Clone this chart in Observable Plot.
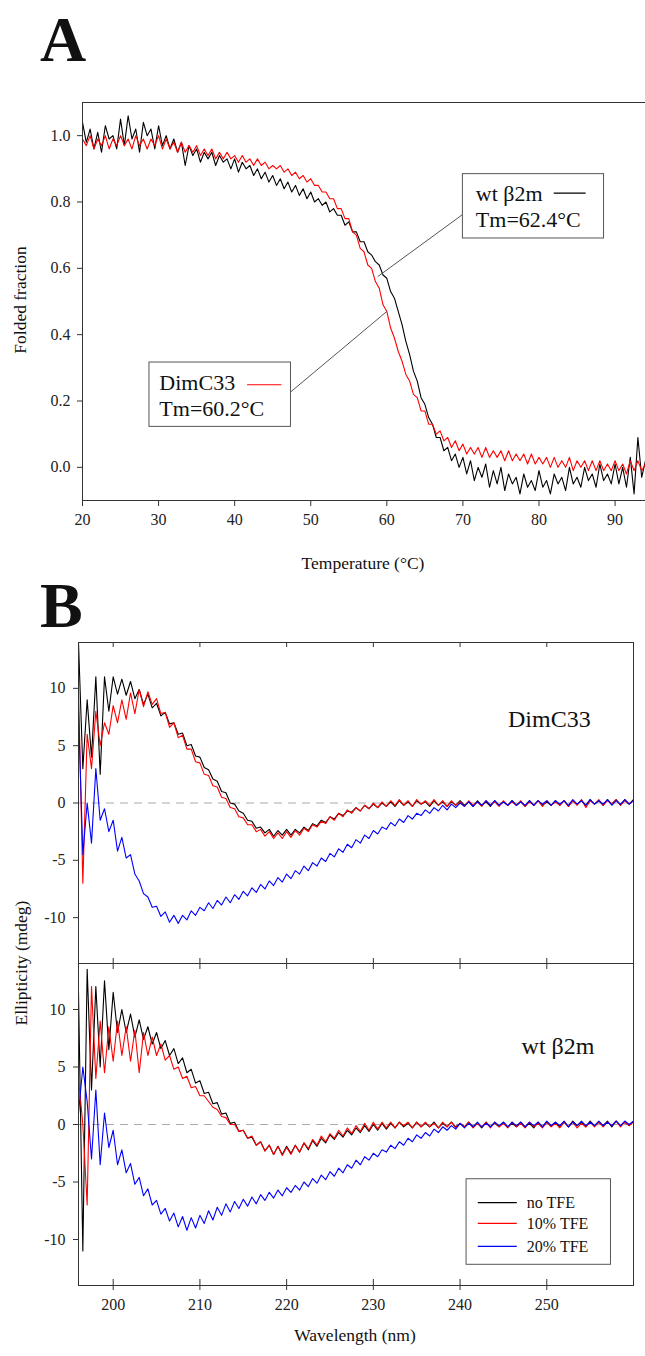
<!DOCTYPE html>
<html><head><meta charset="utf-8">
<script src="https://cdn.jsdelivr.net/npm/d3@7"></script>
<script src="https://cdn.jsdelivr.net/npm/@observablehq/plot@0.6"></script>
<style>
body{margin:0;background:#fff;}
#fig{position:relative;width:645px;height:1356px;overflow:hidden;background:#fff;font-family:"Liberation Serif","DejaVu Serif",serif;color:#222;}
#fig svg{position:absolute;left:0;}
.lab{position:absolute;white-space:nowrap;line-height:1;}
</style></head><body><div id="fig"></div>
<script>
// ---------- Panel A data: folded fraction vs temperature ----------
const tempStart = 20, tempStep = 0.5;
const tempTicks = [20, 30, 40, 50, 60, 70, 80, 90];
const foldTicks = [0, 0.2, 0.4, 0.6, 0.8, 1.0];
const wtFolded = [
 1.04,0.98,1.02,0.96,1.01,0.95,1.03,0.99,1.00,0.96,
 1.05,0.97,1.06,0.99,1.02,0.95,1.04,1.00,1.02,0.96,
 1.03,0.97,1.00,0.96,0.99,0.95,0.98,0.91,0.97,0.94,
 0.96,0.92,0.95,0.93,0.95,0.91,0.94,0.92,0.93,0.90,
 0.93,0.89,0.92,0.90,0.91,0.88,0.90,0.87,0.89,0.86,
 0.88,0.85,0.87,0.84,0.86,0.83,0.85,0.82,0.84,0.81,
 0.83,0.80,0.81,0.79,0.80,0.77,0.78,0.76,0.76,0.73,
 0.74,0.71,0.71,0.68,0.68,0.65,0.64,0.62,0.61,0.58,
 0.57,0.53,0.51,0.47,0.43,0.38,0.34,0.29,0.26,0.21,
 0.19,0.15,0.13,0.09,0.09,0.05,0.06,0.02,0.04,0.00,
 0.03,-0.02,0.02,-0.04,0.00,-0.03,0.01,-0.06,-0.01,-0.05,
 0.00,-0.07,-0.02,-0.05,-0.03,-0.08,-0.02,-0.06,-0.04,-0.07,
 -0.01,-0.06,-0.04,-0.08,-0.02,-0.05,-0.03,-0.07,0.00,-0.05,
 -0.03,-0.06,0.00,-0.04,-0.02,-0.06,0.01,-0.04,-0.02,-0.05,
 0.01,-0.05,0.00,-0.06,0.03,-0.08,0.09,-0.03,0.02
];
const dimFolded = [
 0.99,0.97,1.00,0.96,0.99,0.97,1.00,0.96,0.99,0.97,
 1.00,0.97,0.99,0.96,1.00,0.97,0.99,0.96,0.99,0.97,
 1.00,0.96,0.99,0.96,0.98,0.95,0.98,0.95,0.97,0.95,
 0.97,0.94,0.96,0.94,0.96,0.93,0.95,0.93,0.95,0.93,
 0.94,0.92,0.94,0.92,0.93,0.91,0.93,0.91,0.92,0.90,
 0.91,0.90,0.91,0.89,0.90,0.88,0.89,0.87,0.88,0.86,
 0.87,0.85,0.85,0.83,0.83,0.81,0.81,0.78,0.78,0.75,
 0.75,0.71,0.70,0.66,0.65,0.61,0.60,0.56,0.54,0.49,
 0.47,0.42,0.39,0.35,0.32,0.28,0.26,0.22,0.21,0.17,
 0.17,0.13,0.13,0.10,0.11,0.08,0.09,0.06,0.08,0.05,
 0.07,0.04,0.06,0.04,0.06,0.03,0.06,0.03,0.05,0.03,
 0.05,0.02,0.05,0.02,0.04,0.02,0.04,0.01,0.04,0.01,
 0.03,0.01,0.03,0.00,0.03,0.00,0.02,0.00,0.03,-0.01,
 0.02,0.00,0.02,-0.01,0.02,-0.01,0.02,-0.01,0.01,-0.01,
 0.02,-0.01,0.01,-0.02,0.02,-0.01,0.02,-0.01,0.01
];
const seriesA = [
  {name: "wt β2m", color: "#000000", values: wtFolded},
  {name: "DimC33", color: "#ff0000", values: dimFolded}
];
// annotation callouts (data units)
const annoA = [
  {name: "wt β2m", tm: "Tm=62.4°C", color: "#000000", bx1: 70.0, bx2: 88.55, by1: 0.690, by2: 0.884,
   tx: 71.7, tyName: 0.802, tyTm: 0.726, sx1: 82.0, sx2: 86.2, sy: 0.827,
   fromX: 70.0, fromY: 0.763, toX: 58.8, toY: 0.575},
  {name: "DimC33", tm: "Tm=60.2°C", color: "#ff0000", bx1: 28.8, bx2: 47.4, by1: 0.122, by2: 0.316,
   tx: 30.1, tyName: 0.234, tyTm: 0.155, sx1: 41.7, sx2: 46.2, sy: 0.249,
   fromX: 47.4, fromY: 0.228, toX: 60.0, toY: 0.47}
];

// ---------- Panel B data: CD spectra ----------
const wlStart = 196, wlStep = 0.5;
const wlTicks = [200, 210, 220, 230, 240, 250];
const ellTicks = [-10, -5, 0, 5, 10];
const dimNoTFE = [
 14,3,9,4,11,2.5,11,8,11,9.5,
 10.8,9.4,10.6,9.1,9.9,8.6,9.5,8.3,8.7,7.6,
 7.9,6.9,7.0,6.0,6.1,5.0,5.1,4.1,4.0,3.1,
 2.9,2.1,1.9,1.0,0.9,0.0,-0.1,-0.7,-0.9,-1.5,
 -1.6,-2.2,-2.1,-2.6,-2.3,-2.9,-2.4,-2.8,-2.3,-2.8,
 -2.3,-2.6,-2.1,-2.4,-1.8,-2.0,-1.5,-1.7,-1.2,-1.4,
 -0.9,-1.1,-0.7,-0.8,-0.4,-0.7,-0.2,-0.5,-0.1,-0.4,
 0.0,-0.3,0.1,-0.3,0.2,-0.2,0.1,-0.3,0.2,-0.1,
 0.1,-0.3,0.2,-0.2,0.1,-0.3,0.1,-0.2,0.2,-0.2,
 0.1,-0.3,0.2,-0.2,0.1,-0.3,0.2,-0.2,0.1,-0.2,
 0.2,-0.2,0.1,-0.3,0.2,-0.2,0.2,-0.2,0.1,-0.2,
 0.2,-0.2,0.2,-0.3,0.2,-0.1,0.2,-0.2,0.3,-0.1,
 0.2,-0.2,0.3,-0.1,0.3,-0.2,0.3,-0.1,0.3
];
const dim10TFE = [
 10,-7,6,3,8,5,7,6,8.5,7,
 9,7.3,9.6,7.8,9.9,8.4,9.7,8.6,9.1,7.8,
 7.9,6.6,7.0,5.7,5.9,4.7,4.7,3.6,3.5,2.5,
 2.4,1.5,1.4,0.5,0.4,-0.4,-0.5,-1.2,-1.3,-1.9,
 -1.9,-2.5,-2.3,-2.9,-2.5,-3.1,-2.6,-3.1,-2.5,-3.0,
 -2.4,-2.8,-2.2,-2.5,-1.9,-2.1,-1.6,-1.8,-1.2,-1.5,
 -0.9,-1.2,-0.6,-0.9,-0.4,-0.7,-0.2,-0.5,0.0,-0.4,
 0.1,-0.3,0.2,-0.2,0.3,-0.2,0.2,-0.3,0.3,-0.1,
 0.2,-0.2,0.3,-0.2,0.2,-0.3,0.2,-0.2,0.1,-0.3,
 0.2,-0.2,0.1,-0.3,0.2,-0.2,0.1,-0.3,0.2,-0.2,
 0.1,-0.2,0.2,-0.3,0.1,-0.2,0.2,-0.3,0.2,-0.2,
 0.1,-0.2,0.2,-0.3,0.2,-0.2,0.3,-0.4,0.2,-0.1,
 0.3,-0.2,0.2,-0.1,0.3,-0.2,0.2,-0.1,0.2
];
const dim20TFE = [
 8,-4.5,0,-3.5,3,-1.5,-0.5,-2.5,-1.5,-4.2,
 -3.0,-4.8,-4.5,-6.2,-6.8,-7.9,-8.2,-9.1,-9.0,-9.9,
 -9.5,-10.4,-9.8,-10.5,-9.8,-10.2,-9.4,-9.8,-9.1,-9.4,
 -8.7,-9.2,-8.5,-8.9,-8.2,-8.7,-8.0,-8.4,-7.7,-8.1,
 -7.4,-7.8,-7.1,-7.5,-6.8,-7.2,-6.5,-6.9,-6.2,-6.6,
 -5.9,-6.2,-5.5,-5.9,-5.2,-5.5,-4.8,-5.1,-4.4,-4.7,
 -4.0,-4.3,-3.6,-3.9,-3.2,-3.5,-2.8,-3.1,-2.4,-2.7,
 -2.1,-2.3,-1.7,-2.0,-1.4,-1.7,-1.1,-1.4,-0.9,-1.1,
 -0.6,-0.9,-0.4,-0.7,-0.2,-0.6,-0.1,-0.4,0.0,-0.3,
 0.1,-0.3,0.1,-0.2,0.2,-0.2,0.2,-0.2,0.1,-0.2,
 0.2,-0.2,0.1,-0.2,0.2,-0.2,0.2,-0.1,0.2,-0.2,
 0.2,-0.1,0.2,-0.2,0.3,-0.1,0.2,-0.2,0.3,-0.1,
 0.2,-0.1,0.3,-0.2,0.2,-0.1,0.3,-0.1,0.2
];
const wtNoTFE = [
 11.5,-11,13.5,3,12,5,12.5,6.5,11.5,8,
 10,8.0,9.6,7.6,9.1,7.4,8.5,7.0,8.0,6.6,
 7.3,6.0,6.6,5.3,5.8,4.5,4.8,3.6,3.8,2.7,
 2.8,1.8,1.9,0.9,1.0,0.1,0.2,-0.6,-0.5,-1.2,
 -1.1,-1.8,-1.5,-2.3,-1.8,-2.6,-1.9,-2.6,-1.9,-2.5,
 -1.8,-2.4,-1.6,-2.2,-1.4,-1.9,-1.2,-1.6,-0.9,-1.3,
 -0.7,-1.1,-0.5,-0.9,-0.3,-0.7,-0.1,-0.6,0.0,-0.5,
 0.1,-0.4,0.1,-0.3,0.2,-0.2,0.1,-0.3,0.2,-0.2,
 0.1,-0.2,0.2,-0.3,0.1,-0.2,0.2,-0.2,0.1,-0.2,
 0.2,-0.2,0.1,-0.3,0.2,-0.2,0.1,-0.2,0.2,-0.2,
 0.1,-0.2,0.2,-0.2,0.1,-0.3,0.2,-0.2,0.2,-0.1,
 0.2,-0.2,0.2,-0.2,0.3,-0.1,0.2,-0.2,0.3,-0.1,
 0.2,-0.1,0.3,-0.2,0.3,-0.1,0.2,-0.1,0.3
];
const wt10TFE = [
 4,0,-7,12,4,9,4.5,8.5,5.5,9,
 6,8.5,5.5,8.2,4.5,8.0,6.0,7.6,6.0,7.0,
 5.6,6.0,4.8,5.0,4.0,4.2,3.2,3.3,2.5,2.5,
 2.0,1.5,1.3,0.7,0.6,0.0,0.0,-0.6,-0.5,-1.2,
 -1.0,-1.8,-1.5,-2.3,-1.8,-2.6,-1.9,-2.7,-2.0,-2.6,
 -1.8,-2.4,-1.6,-2.1,-1.3,-1.8,-1.0,-1.5,-0.8,-1.2,
 -0.5,-1.0,-0.3,-0.8,-0.1,-0.6,0.1,-0.5,0.2,-0.4,
 0.2,-0.3,0.2,-0.3,0.2,-0.1,0.2,-0.3,0.2,-0.2,
 0.2,-0.2,0.1,-0.3,0.2,-0.2,0.2,-0.3,0.1,-0.2,
 0.2,-0.3,0.1,-0.2,0.2,-0.3,0.2,-0.2,0.1,-0.3,
 0.2,-0.2,0.1,-0.3,0.2,-0.2,0.1,-0.3,0.2,-0.2,
 0.1,-0.3,0.2,-0.2,0.2,-0.3,0.1,-0.2,0.2,-0.2,
 0.2,-0.2,0.2,-0.1,0.3,-0.2,0.2,-0.1,0.2
];
const wt20TFE = [
 1,5,2,-3,3,-3.5,1,-2,-0.5,-3.5,
 -2.2,-4.2,-3.4,-5.2,-4.6,-6.2,-5.6,-7.0,-6.6,-7.8,
 -7.3,-8.4,-7.7,-8.9,-8.0,-9.2,-8.1,-9.0,-7.9,-8.6,
 -7.5,-8.3,-7.2,-7.9,-6.9,-7.6,-6.7,-7.3,-6.5,-7.1,
 -6.3,-6.9,-6.1,-6.6,-5.9,-6.4,-5.7,-6.2,-5.5,-5.9,
 -5.3,-5.7,-5.0,-5.4,-4.7,-5.1,-4.4,-4.8,-4.1,-4.5,
 -3.8,-4.2,-3.5,-3.8,-3.1,-3.5,-2.8,-3.1,-2.5,-2.8,
 -2.2,-2.4,-1.8,-2.1,-1.5,-1.8,-1.2,-1.5,-0.9,-1.2,
 -0.7,-1.0,-0.4,-0.7,-0.2,-0.5,-0.1,-0.4,0.1,-0.3,
 0.1,-0.2,0.2,-0.2,0.1,-0.2,0.2,-0.1,0.2,-0.2,
 0.2,-0.1,0.2,-0.2,0.2,-0.1,0.2,-0.2,0.3,-0.1,
 0.2,-0.1,0.3,-0.2,0.2,-0.1,0.3,-0.1,0.2,-0.1,
 0.3,-0.1,0.2,-0.1,0.3,-0.1,0.3,0.0,0.3
];
const tfeLabels = ["no TFE", "10% TFE", "20% TFE"];
const tfeColors = ["#000000", "#ff0000", "#0000ff"];
const panelsB = [
  {name: "DimC33", series: [dimNoTFE, dim10TFE, dim20TFE], labelX: 250.3, labelY: 6.6},
  {name: "wt β2m", series: [wtNoTFE, wt10TFE, wt20TFE], labelX: 251.3, labelY: 6.1}
];
// legend layout (data units of lower panel)
const legendB = {x1: 240.75, x2: 257.4, y1: -12.2, y2: -4.76, lx1: 242.1, lx2: 246.6, tx: 247.7, rows: [-6.8, -8.6, -10.6]};

// ---------- helpers ----------
const serif = '"Liberation Serif","DejaVu Serif",serif';
const fig = document.getElementById("fig");
function toRows(values, start, step, name, color) {
  return values.map((v, i) => ({x: start + i * step, y: v, name, color}));
}
function label(text, {x, baseline, size, bold = false, anchor = "start", rotate = false}) {
  const d = document.createElement("div");
  d.className = "lab";
  d.textContent = text;
  d.style.fontSize = size + "px";
  if (bold) d.style.fontWeight = "bold";
  d.style.color = "#111";
  if (rotate) {
    d.style.left = x + "px";
    d.style.top = baseline + "px";
    d.style.transform = "translate(-50%,-50%) rotate(-90deg)";
  } else {
    d.style.left = x + "px";
    d.style.top = (baseline - 0.8375 * size) + "px";
    if (anchor === "middle") d.style.transform = "translateX(-50%)";
  }
  fig.appendChild(d);
}
function place(svg, top) { svg.style.top = top + "px"; fig.appendChild(svg); }

// ---------- Panel A ----------
const rowsA = seriesA.flatMap(s => toRows(s.values, tempStart, tempStep, s.name, s.color));
const plotA = Plot.plot({
  width: 645, height: 600,
  marginTop: 102, marginBottom: 100, marginLeft: 82, marginRight: 0,
  style: {fontFamily: serif, fontSize: "16px", color: "#222", background: "transparent", overflow: "visible"},
  x: {domain: [20, 94], axis: null},
  y: {domain: [-0.1, 1.1], axis: null},
  color: {type: "identity"},
  marks: [
    Plot.line(rowsA, {x: "x", y: "y", z: "name", stroke: "color", strokeWidth: 1.1, clip: true}),
    Plot.link(annoA, {x1: "fromX", y1: "fromY", x2: "toX", y2: "toY", stroke: "#555", strokeWidth: 1}),
    Plot.rect(annoA, {x1: "bx1", x2: "bx2", y1: "by1", y2: "by2", fill: "white", stroke: "#555", strokeWidth: 1}),
    Plot.text(annoA, {x: "tx", y: "tyName", text: "name", textAnchor: "start", lineAnchor: "bottom", fontSize: 22, fill: "#111"}),
    Plot.text(annoA, {x: "tx", y: "tyTm", text: "tm", textAnchor: "start", lineAnchor: "bottom", fontSize: 22, fill: "#111"}),
    Plot.ruleY(annoA, {y: "sy", x1: "sx1", x2: "sx2", stroke: "color", strokeWidth: 1.2}),
    Plot.frame({stroke: "#333"}),
    Plot.axisY({ticks: foldTicks, tickFormat: d3.format(".1f"), tickSize: 5, tickPadding: 7, label: null, stroke: "#333"}),
    Plot.axisX({ticks: tempTicks, tickFormat: d => String(d), tickSize: 6, tickPadding: 7, label: null, stroke: "#333"})
  ]
});
place(plotA, 0);

// ---------- Panel B ----------
function cdPanel(p, isBottom) {
  const rows = p.series.flatMap((vals, k) => toRows(vals, wlStart, wlStep, tfeLabels[k], tfeColors[k]));
  const frameH = 321;
  const marks = [
    Plot.ruleY([0], {stroke: "#aaa", strokeWidth: 1, strokeDasharray: "8,6"}),
    Plot.line(rows, {x: "x", y: "y", z: "name", stroke: "color", strokeWidth: 1.1, clip: true}),
    Plot.text([p], {x: "labelX", y: "labelY", text: "name", textAnchor: "middle", lineAnchor: "bottom", fontSize: 24, fill: "#111"}),
    Plot.tickX(wlTicks, {x: d => d, insetBottom: frameH - 5, stroke: "#333"}),
    Plot.tickX(wlTicks, {x: d => d, insetTop: frameH - 5, stroke: "#333"}),
    Plot.frame({stroke: "#333"}),
    Plot.axisY({ticks: ellTicks, tickFormat: d => String(d), tickSize: 5, tickPadding: 8, label: null, stroke: "#333"})
  ];
  if (isBottom) {
    marks.push(
      Plot.axisX({ticks: wlTicks, tickFormat: d => String(d), tickSize: 5, tickPadding: 8, label: null, stroke: "#333"}),
      Plot.rect([legendB], {x1: "x1", x2: "x2", y1: "y1", y2: "y2", fill: "white", stroke: "#555", strokeWidth: 1}),
      Plot.ruleY(legendB.rows, {y: d => d, x1: legendB.lx1, x2: legendB.lx2, stroke: (d, i) => tfeColors[i], strokeWidth: 1.2}),
      Plot.text(legendB.rows, {x: legendB.tx, y: d => d, text: (d, i) => tfeLabels[i], textAnchor: "start", fontSize: 16, fill: "#111"})
    );
  }
  return Plot.plot({
    width: 645, height: isBottom ? 393 : 363,
    marginTop: isBottom ? 0 : 42, marginBottom: isBottom ? 71 : 0, marginLeft: 78, marginRight: 12,
    style: {fontFamily: serif, fontSize: "16px", color: "#222", background: "transparent", overflow: "visible"},
    x: {domain: [196, 260], axis: null},
    y: {domain: [-14, 14], axis: null},
    color: {type: "identity"},
    marks
  });
}
place(cdPanel(panelsB[0], false), 600);
place(cdPanel(panelsB[1], true), 963);

// ---------- Titles ----------
label("A", {x: 40, baseline: 62, size: 64, bold: true});
label("B", {x: 40, baseline: 628, size: 64, bold: true});
label("Folded fraction", {x: 21, baseline: 300, size: 17.5, rotate: true});
label("Temperature (°C)", {x: 363, baseline: 570, size: 17.5, anchor: "middle"});
label("Ellipticity (mdeg)", {x: 22, baseline: 963, size: 17.5, rotate: true});
label("Wavelength (nm)", {x: 355, baseline: 1342, size: 17.5, anchor: "middle"});
</script></body></html>
